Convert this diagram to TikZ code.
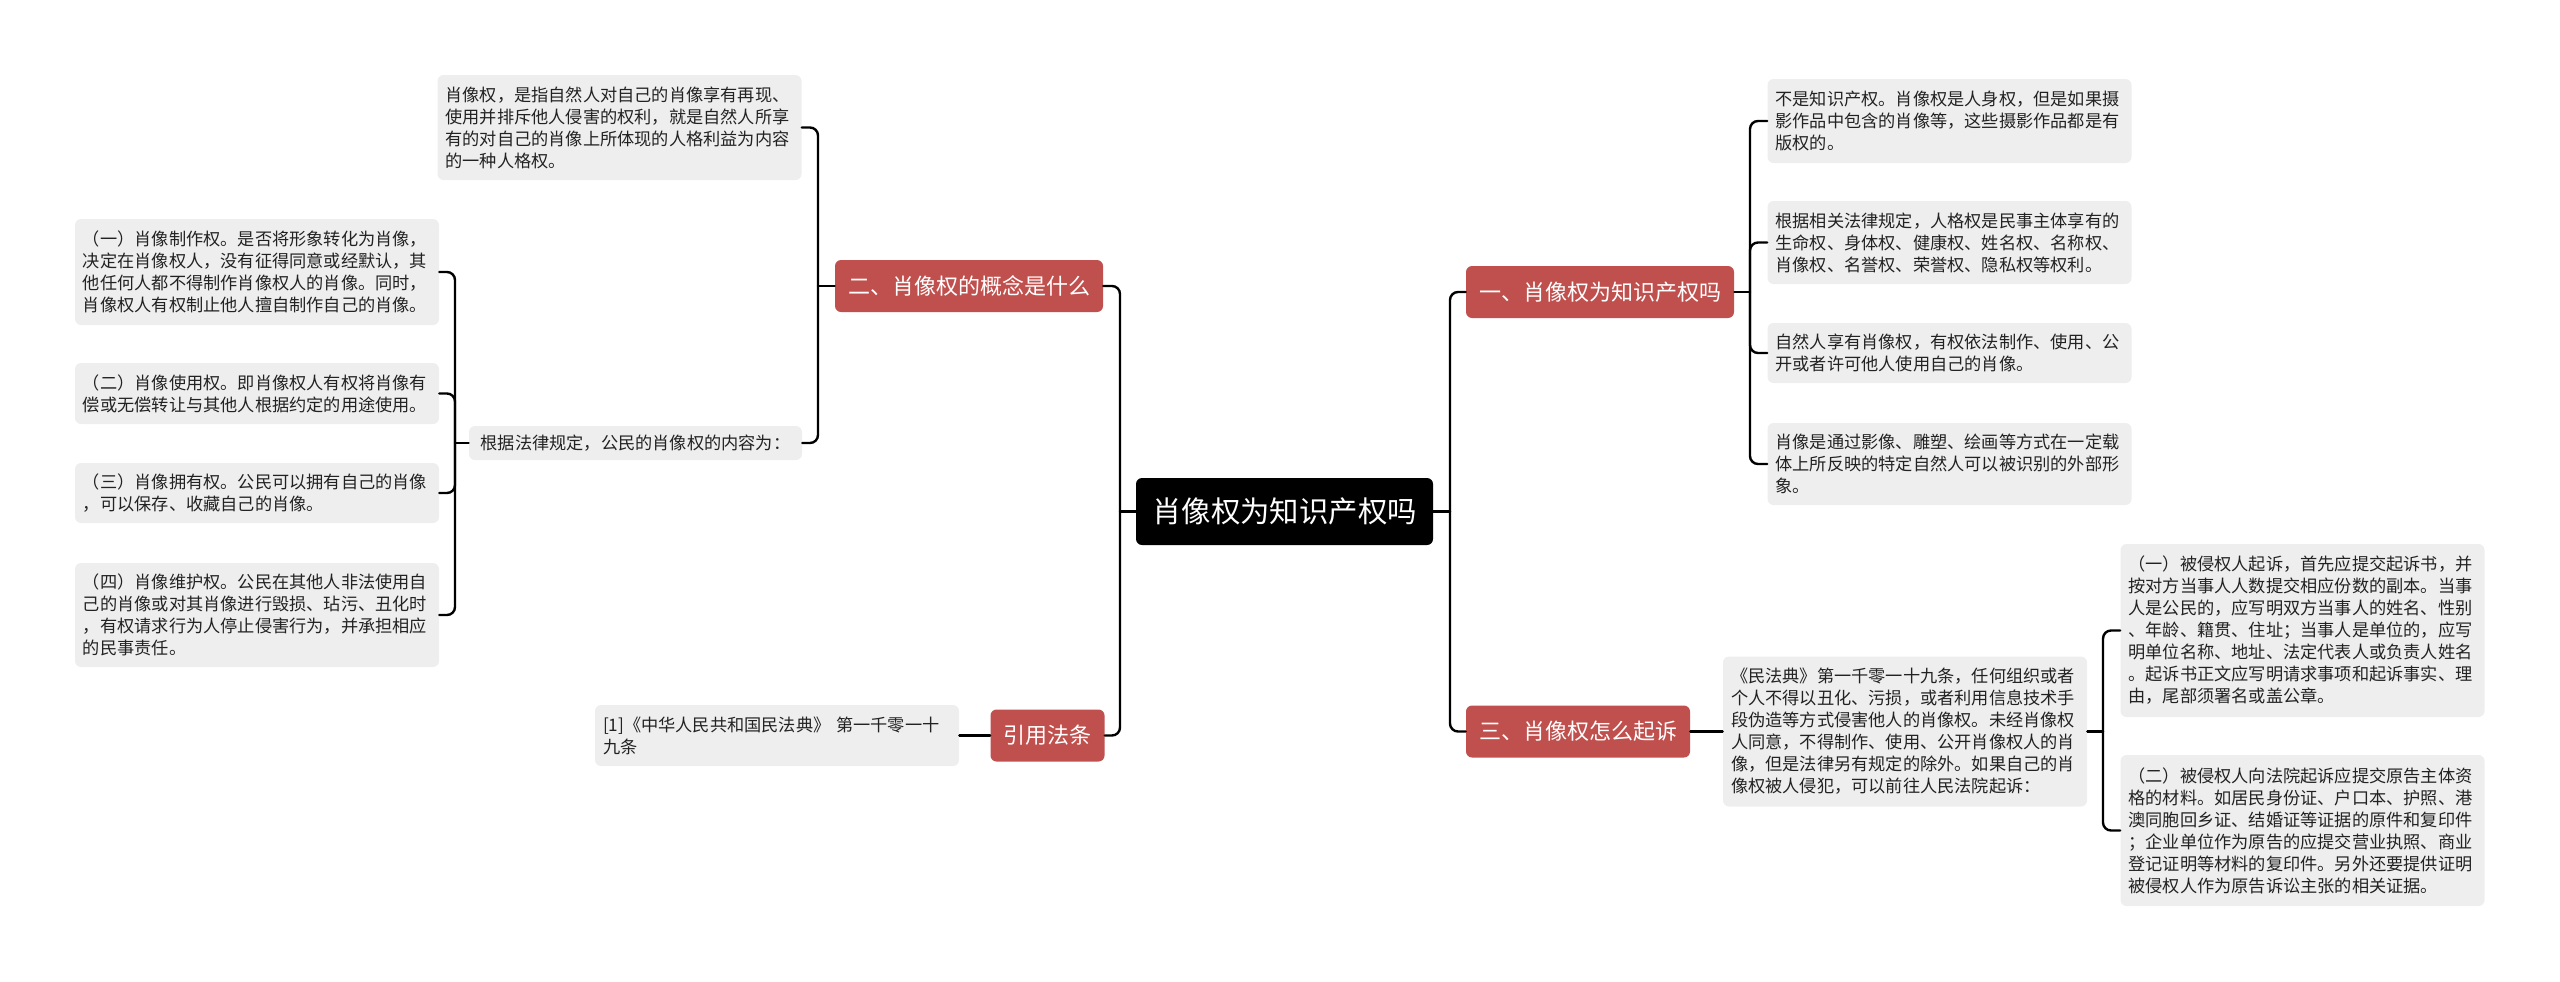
\documentclass[tikz,border=0pt]{standalone}
\usepackage{fontspec}
\setmainfont{Noto Sans CJK SC}
\definecolor{branchred}{RGB}{192,80,77}
\definecolor{leafgray}{RGB}{238,238,238}
\definecolor{leaftext}{RGB}{34,34,34}
\begin{document}
\begin{tikzpicture}[x=0.5pt,y=-0.5pt,
  conn/.style={line width=1.2pt, draw=black, line cap=round},
  bus/.style={conn, rounded corners=4pt},
  rootbox/.style={fill=black, text=white, rounded corners=3pt, font=\fontsize{14.7}{17}\selectfont, minimum width=148.5pt, minimum height=33.5pt, inner sep=0pt},
  branchbox/.style={fill=branchred, text=white, rounded corners=3pt, font=\fontsize{11}{13}\selectfont, minimum height=26pt, inner xsep=6.5pt, inner ysep=0pt},
  leaf/.style={fill=leafgray, text=leaftext, rounded corners=3pt, font=\fontsize{8.6}{11}\selectfont, text width=174pt, align=left, inner xsep=4pt, inner ysep=1pt},
]
\useasboundingbox (0,0) rectangle (2560,981);

% root and branches
\node[rootbox] (root) at (1284.5,511.5) {肖像权为知识产权吗};
\node[branchbox] (b1) at (1600,292) {一、肖像权为知识产权吗};
\node[branchbox] (b3) at (1578,731.5) {三、肖像权怎么起诉};
\node[branchbox] (b2) at (969,286) {二、肖像权的概念是什么};
\node[branchbox] (b4) at (1047.5,735.5) {引用法条};

% right leaves of branch 1
\node[leaf, minimum height=42pt] (r1) at (1949.5,121) {不是知识产权。肖像权是人身权，但是如果摄\\影作品中包含的肖像等，这些摄影作品都是有\\版权的。};
\node[leaf, minimum height=41.5pt] (r2) at (1949.5,242.5) {根据相关法律规定，人格权是民事主体享有的\\生命权、身体权、健康权、姓名权、名称权、\\肖像权、名誉权、荣誉权、隐私权等权利。};
\node[leaf, minimum height=30pt] (r3) at (1949.5,353) {自然人享有肖像权，有权依法制作、使用、公\\开或者许可他人使用自己的肖像。};
\node[leaf, minimum height=41pt] (r4) at (1949.5,464) {肖像是通过影像、雕塑、绘画等方式在一定载\\体上所反映的特定自然人可以被识别的外部形\\象。};

% branch 3
\node[leaf, minimum height=75pt] (m) at (1905,731.5) {《民法典》第一千零一十九条，任何组织或者\\个人不得以丑化、污损，或者利用信息技术手\\段伪造等方式侵害他人的肖像权。未经肖像权\\人同意，不得制作、使用、公开肖像权人的肖\\像，但是法律另有规定的除外。如果自己的肖\\像权被人侵犯，可以前往人民法院起诉：};
\node[leaf, minimum height=86.5pt] (c1) at (2302.5,630.5) {（一）被侵权人起诉，首先应提交起诉书，并\\按对方当事人人数提交相应份数的副本。当事\\人是公民的，应写明双方当事人的姓名、性别\\、年龄、籍贯、住址；当事人是单位的，应写\\明单位名称、地址、法定代表人或负责人姓名\\。起诉书正文应写明请求事项和起诉事实、理\\由，尾部须署名或盖公章。};
\node[leaf, minimum height=75.5pt] (c2) at (2302.5,830.5) {（二）被侵权人向法院起诉应提交原告主体资\\格的材料。如居民身份证、户口本、护照、港\\澳同胞回乡证、结婚证等证据的原件和复印件\\；企业单位作为原告的应提交营业执照、商业\\登记证明等材料的复印件。另外还要提供证明\\被侵权人作为原告诉讼主张的相关证据。};

% branch 2
\node[leaf, minimum height=52.5pt] (l1) at (619.5,127.5) {肖像权，是指自然人对自己的肖像享有再现、\\使用并排斥他人侵害的权利，就是自然人所享\\有的对自己的肖像上所体现的人格利益为内容\\的一种人格权。};
\node[leaf, text width=158.5pt, align=center, minimum height=17pt] (l2) at (635.5,443) {根据法律规定，公民的肖像权的内容为：};
\node[leaf, minimum height=53pt] (g1) at (257,272) {（一）肖像制作权。是否将形象转化为肖像，\\决定在肖像权人，没有征得同意或经默认，其\\他任何人都不得制作肖像权人的肖像。同时，\\肖像权人有权制止他人擅自制作自己的肖像。};
\node[leaf, minimum height=30.5pt] (g2) at (257,393.5) {（二）肖像使用权。即肖像权人有权将肖像有\\偿或无偿转让与其他人根据约定的用途使用。};
\node[leaf, minimum height=30pt] (g3) at (257,493) {（三）肖像拥有权。公民可以拥有自己的肖像\\，可以保存、收藏自己的肖像。};
\node[leaf, minimum height=52pt] (g4) at (257,615) {（四）肖像维护权。公民在其他人非法使用自\\己的肖像或对其肖像进行毁损、玷污、丑化时\\，有权请求行为人停止侵害行为，并承担相应\\的民事责任。};

% branch 4
\node[leaf, minimum height=30.5pt] (ref) at (777,735.5) {[1]《中华人民共和国民法典》 第一千零一十\\九条};

% junction points
\coordinate (jR) at (1450,511.5);
\coordinate (jL) at (1120,511.5);
\coordinate (j1) at (1750,292);
\coordinate (jm) at (2103,731.5);
\coordinate (j2) at (818,286);
\coordinate (jl2) at (455,443);

% connectors from root
\draw[conn] (root.east) -- (jR);
\draw[bus] (jR) |- (b1.west);
\draw[bus] (jR) |- (b3.west);
\draw[conn] (root.west) -- (jL);
\draw[bus] (jL) |- (b2.east);
\draw[bus] (jL) |- (b4.east);

% branch 1
\draw[conn] (b1.east) -- (j1);
\draw[bus] (j1) |- (r1.west);
\draw[bus] (j1) |- (r2.west);
\draw[bus] (j1) |- (r3.west);
\draw[bus] (j1) |- (r4.west);

% branch 3
\draw[conn] (b3.east) -- (m.west);
\draw[conn] (m.east) -- (jm);
\draw[bus] (jm) |- (c1.west);
\draw[bus] (jm) |- (c2.west);

% branch 2
\draw[conn] (b2.west) -- (j2);
\draw[bus] (j2) |- (l1.east);
\draw[bus] (j2) |- (l2.east);
\draw[conn] (l2.west) -- (jl2);
\draw[bus] (jl2) |- (g1.east);
\draw[bus] (jl2) |- (g2.east);
\draw[bus] (jl2) |- (g3.east);
\draw[bus] (jl2) |- (g4.east);

% branch 4
\draw[conn] (b4.west) -- (ref.east);
\end{tikzpicture}
\end{document}
